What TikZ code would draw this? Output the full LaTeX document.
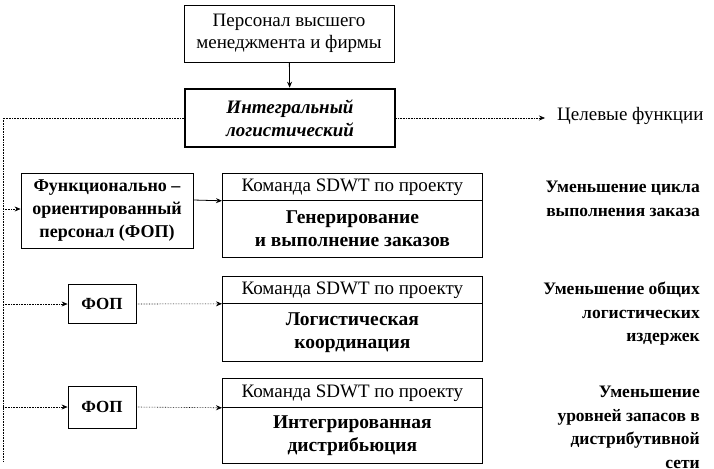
\documentclass[tikz,border=0pt]{standalone}
\usepackage{fontspec}
\setmainfont{Liberation Serif}
\usetikzlibrary{arrows.meta}
\begin{document}
\begin{tikzpicture}[x=1pt,y=-1pt,
  box/.style={draw,line width=0.8pt,inner sep=0pt,align=center,font=\fontsize{19}{22}\selectfont},
  bbox/.style={box,font=\fontsize{19.5}{23}\selectfont\bfseries},
  fopbox/.style={box,font=\fontsize{17}{22}\selectfont\bfseries,minimum width=68pt,minimum height=39pt},
  hbox/.style={box,minimum width=260pt,anchor=north west},
  conn/.style={line width=0.6pt,densely dotted},
  arr/.style={-{Stealth[length=6pt,width=5pt]}},
  lbl/.style={inner sep=0pt,font=\fontsize{17.5}{23.5}\selectfont\bfseries}]
\useasboundingbox (0,0) rectangle (714,468);
% top
\node[box,minimum width=210pt,minimum height=57pt] (top) at (289,33.5) {Персонал высшего\\менеджмента и фирмы};
\node[box,line width=2.6pt,minimum width=210pt,minimum height=58pt,font=\fontsize{19}{23}\selectfont\bfseries\itshape] (integ) at (290,118) {Интегральный\\логистический};
\draw[line width=0.8pt,arr] (top) -- (integ);
% goal
\node[anchor=west,inner sep=0pt,font=\fontsize{19}{22}\selectfont] (goal) at (557,116) {Целевые функции};
\coordinate (ga) at (545,118);
\draw[conn,arr] (integ.east) -- (ga);
% left bus
\coordinate (lt) at (3,118);
\coordinate (lb) at (3,462);
\draw[conn] (integ.west) -- (lt) -- (lb);
% row 1
\node[box,font=\fontsize{18}{23}\selectfont\bfseries,minimum width=172pt,minimum height=75pt] (fop1) at (107,210.5) {Функционально –\\ориентированный\\персонал (ФОП)};
\node[hbox,minimum height=27pt] (h1) at (222,173) {Команда SDWT по проекту};
\node[hbox,bbox,minimum height=57pt] (b1) at (222,200) {Генерирование\\и выполнение заказов};
\coordinate (l1) at (3,209);
\draw[conn,arr] (l1) -- (l1 -| fop1.west);
\draw[line width=0.8pt,arr] (fop1.east |- 0,200) -- (h1.south west);
\node[lbl,anchor=east,align=right] (g1) at (700,199) {Уменьшение цикла\\выполнения заказа};
% row 2
\node[fopbox] (fop2) at (102,304) {ФОП};
\node[hbox,minimum height=27pt] (h2) at (222,276) {Команда SDWT по проекту};
\node[hbox,bbox,minimum height=58pt] (b2) at (222,303) {Логистическая\\координация};
\coordinate (l2) at (3,304);
\draw[conn,arr] (l2) -- (fop2.west);
\draw[conn,arr] (fop2.east) -- (h2.south west);
\node[lbl,anchor=east,align=right] (g2) at (700,314) {Уменьшение общих\\логистических\\издержек};
% row 3
\node[fopbox,minimum height=42pt] (fop3) at (102,407) {ФОП};
\node[hbox,minimum height=29pt] (h3) at (222,378) {Команда SDWT по проекту};
\node[hbox,bbox,minimum height=56pt] (b3) at (222,407) {Интегрированная\\дистрибьюция};
\coordinate (l3) at (3,407);
\draw[conn,arr] (l3) -- (fop3.west);
\draw[conn,arr] (fop3.east) -- (h3.south west);
\node[lbl,anchor=north east,align=right] (g3) at (700,386) {Уменьшение\\уровней запасов в\\дистрибутивной\\сети};
\end{tikzpicture}
\end{document}
